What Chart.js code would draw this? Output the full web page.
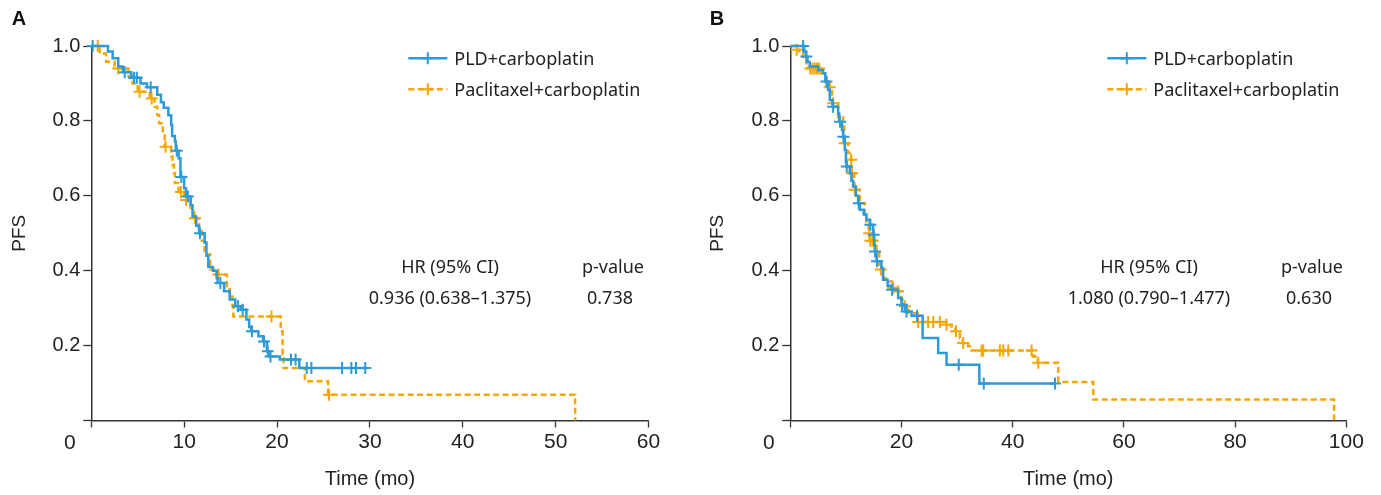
<!DOCTYPE html>
<html>
<head>
<meta charset="utf-8">
<script src="https://cdn.jsdelivr.net/npm/chart.js@4.4.1/dist/chart.umd.min.js"></script>
<style>
    body { margin: 0; background: #fff; width: 1381px; height: 495px; position: relative; overflow: hidden; color: #222; }
    canvas { position: absolute; top: 0; }
    #chartA { left: 0; }
    #chartB { left: 690px; }
    .txt { position: absolute; white-space: nowrap; line-height: 1; font: 18px 'Noto Sans', sans-serif; color: #222; transform: translate(-50%, -50%); }
    .left { transform: translate(0, -50%); }
    .panel { font: bold 20px 'Liberation Sans', Arial, sans-serif; color: #111; }
    .zero { font: 21px 'Liberation Sans', Arial, sans-serif; }
</style>
</head>
<body>
<canvas id="chartA" width="690" height="495"></canvas>
<canvas id="chartB" width="691" height="495"></canvas>
<script>
// series
const seriesNames = ['PLD+carboplatin', 'Paclitaxel+carboplatin'];
const seriesColors = ['#2d9bd7', '#f7a600'];

// Panel A - event times (mo) and PFS after each event, censor times
const aPldTime = [0, 1.8, 2.3, 2.9, 3.4, 4.3, 5.3, 6.0, 7.1, 7.5, 7.8, 8.3, 8.6, 8.7, 9.0, 9.1, 9.4, 9.6, 10.0, 10.2, 10.7, 10.9, 11.3, 11.6, 12.2, 12.4, 12.6, 13.1, 13.5, 13.6, 14.3, 14.9, 15.5, 16.1, 16.7, 17.0, 17.2, 18.0, 18.5, 18.9, 19.2, 20.3, 22.4];
const aPldSurv = [1, 0.985, 0.967, 0.945, 0.93, 0.915, 0.90, 0.89, 0.87, 0.85, 0.835, 0.815, 0.79, 0.76, 0.745, 0.72, 0.70, 0.65, 0.62, 0.598, 0.575, 0.545, 0.52, 0.50, 0.475, 0.44, 0.41, 0.40, 0.38, 0.367, 0.345, 0.323, 0.305, 0.296, 0.27, 0.25, 0.238, 0.225, 0.211, 0.185, 0.171, 0.163, 0.14];
const aPldCens = [0.15, 3.6, 4.6, 4.9, 6.4, 9.2, 9.7, 10.4, 11.7, 13.9, 15.8, 16.3, 17.3, 18.6, 19.0, 19.3, 21.5, 22.0, 23.2, 23.7, 27.0, 28.0, 28.5, 29.5];

const aPacTime = [0, 0.9, 1.6, 2.5, 4.0, 4.45, 5.0, 6.3, 6.8, 7.1, 7.3, 7.7, 7.9, 8.6, 8.75, 8.9, 9.0, 9.4, 10.0, 10.7, 11.0, 11.6, 11.9, 12.2, 12.8, 13.2, 14.6, 14.9, 15.2, 15.3, 20.4, 20.6, 20.7, 23.0, 25.5, 52.1];
const aPacSurv = [1, 0.98, 0.958, 0.94, 0.92, 0.90, 0.878, 0.86, 0.838, 0.816, 0.794, 0.767, 0.731, 0.705, 0.683, 0.66, 0.634, 0.61, 0.589, 0.563, 0.54, 0.51, 0.48, 0.443, 0.403, 0.39, 0.358, 0.331, 0.305, 0.278, 0.238, 0.176, 0.14, 0.105, 0.069, 0];
const aPacCens = [0.7, 2.9, 5.2, 6.5, 8.0, 9.65, 10.2, 11.15, 13.7, 19.4, 25.6];

// Panel B
const bPldTime = [0, 2.5, 2.8, 3.1, 3.5, 5.0, 5.9, 6.3, 6.8, 7.1, 7.6, 8.6, 8.8, 9.3, 9.5, 9.8, 10.0, 10.1, 10.7, 11.0, 11.3, 11.8, 12.2, 12.5, 13.2, 13.7, 14.3, 14.9, 15.1, 15.2, 15.5, 16.4, 16.7, 17.5, 18.2, 19.4, 20.0, 20.6, 21.8, 23.8, 26.6, 28.1, 34.0];
const bPldSurv = [1, 0.985, 0.972, 0.957, 0.945, 0.935, 0.927, 0.905, 0.883, 0.856, 0.838, 0.82, 0.798, 0.775, 0.758, 0.723, 0.69, 0.678, 0.66, 0.64, 0.625, 0.60, 0.58, 0.563, 0.55, 0.536, 0.523, 0.496, 0.47, 0.451, 0.425, 0.407, 0.376, 0.36, 0.349, 0.327, 0.309, 0.291, 0.28, 0.22, 0.18, 0.149, 0.099];
const bPldCens = [2.3, 2.9, 6.5, 7.7, 8.95, 9.55, 10.15, 12.3, 14.4, 15.0, 15.25, 15.6, 18.3, 20.1, 20.9, 22.8, 30.3, 34.8, 47.6];

const bPacTime = [0, 0.9, 1.6, 2.3, 2.9, 3.3, 5.6, 6.5, 7.0, 7.5, 8.6, 9.5, 9.7, 10.4, 10.9, 11.05, 11.5, 12.5, 13.4, 13.7, 14.1, 14.3, 15.5, 16.0, 16.2, 16.7, 17.6, 18.3, 19.2, 20.0, 20.5, 21.2, 22.9, 28.0, 29.0, 29.7, 30.5, 31.0, 32.0, 32.3, 43.7, 44.5, 48.2, 54.5, 97.8];
const bPacSurv = [1, 0.99, 0.98, 0.963, 0.95, 0.94, 0.927, 0.905, 0.89, 0.847, 0.81, 0.785, 0.74, 0.714, 0.696, 0.66, 0.616, 0.58, 0.55, 0.527, 0.50, 0.48, 0.456, 0.416, 0.403, 0.38, 0.371, 0.354, 0.345, 0.323, 0.305, 0.287, 0.263, 0.256, 0.247, 0.238, 0.22, 0.207, 0.198, 0.187, 0.171, 0.154, 0.103, 0.056, 0];
const bPacCens = [1.15, 3.6, 4.0, 4.4, 4.8, 5.2, 7.1, 7.7, 9.8, 10.95, 11.1, 11.6, 14.2, 14.4, 14.8, 16.3, 18.5, 19.4, 20.6, 23.0, 24.8, 25.7, 26.9, 28.1, 29.8, 31.1, 34.4, 34.7, 37.7, 38.3, 39.2, 43.4, 44.6];

// ticks
const aTicksX = [0, 10, 20, 30, 40, 50, 60];
const bTicksX = [0, 20, 40, 60, 80, 100];
const ticksY = [0, 0.2, 0.4, 0.6, 0.8, 1.0];

// HR table
const statsHead = ['HR (95% CI)', 'p-value'];
const statsA = ['0.936 (0.638–1.375)', '0.738'];
const statsB = ['1.080 (0.790–1.477)', '0.630'];

// PFS value at time t (step function)
function survAt(times, surv, t) {
    let s = surv[0];
    for (let i = 0; i < times.length; i++) {
        if (times[i] <= t + 1e-9) s = surv[i];
    }
    return s;
}

function kmDatasets(times, surv, cens, idx) {
    const pts = times.map((t, i) => ({ x: t, y: surv[i] }));
    const lastCens = cens[cens.length - 1];
    if (lastCens > times[times.length - 1]) pts.push({ x: lastCens, y: surv[surv.length - 1] });
    const color = seriesColors[idx];
    return [
        {
            label: seriesNames[idx],
            data: pts,
            stepped: 'before',
            borderColor: color,
            borderWidth: 2.5,
            borderDash: idx ? [6, 3.5] : [],
            pointRadius: 0,
            fill: false,
            clip: false
        },
        {
            label: seriesNames[idx] + ' (censored)',
            data: cens.map(t => ({ x: t, y: survAt(times, surv, t) })),
            showLine: false,
            pointStyle: 'cross',
            pointRadius: 6,
            borderColor: color,
            borderWidth: 2,
            clip: false
        }
    ];
}

// legend sample: line with a cross, drawn on the canvas
const kmLegend = {
    id: 'kmLegend',
    afterDraw(chart, args, opts) {
        const { ctx, chartArea } = chart;
        seriesColors.forEach((color, i) => {
            const x0 = chartArea.left + opts.dx;
            const y = opts.rows[i];
            ctx.save();
            ctx.strokeStyle = color;
            ctx.lineWidth = 2.5;
            ctx.setLineDash(i ? [6, 3.5] : []);
            ctx.beginPath();
            ctx.moveTo(x0, y);
            ctx.lineTo(x0 + 39, y);
            ctx.stroke();
            ctx.setLineDash([]);
            ctx.lineWidth = 2;
            ctx.beginPath();
            ctx.moveTo(x0 + 19.5, y - 6);
            ctx.lineTo(x0 + 19.5, y + 6);
            ctx.moveTo(x0 + 13.5, y);
            ctx.lineTo(x0 + 25.5, y);
            ctx.stroke();
            ctx.restore();
        });
    }
};

const axisColor = '#333';
const textColor = '#222';
const sansFont = "'Liberation Sans', Arial, sans-serif";

function makeChart(id, cfg) {
    return new Chart(document.getElementById(id), {
        type: 'line',
        data: { datasets: cfg.datasets },
        options: {
            responsive: false,
            animation: false,
            events: [],
            layout: { padding: { top: 46, right: cfg.padRight, bottom: 0, left: 0 } },
            plugins: {
                legend: { display: false },
                tooltip: { enabled: false },
                kmLegend: { dx: 317, rows: [58.3, 89.3] }
            },
            scales: {
                x: {
                    type: 'linear',
                    min: 0,
                    max: cfg.xTicks[cfg.xTicks.length - 1],
                    afterBuildTicks: s => { s.ticks = cfg.xTicks.map(v => ({ value: v })); },
                    afterFit: s => { s.height = 74.5; },
                    ticks: {
                        callback: v => (v === 0 ? '' : String(v)),
                        font: { family: sansFont, size: 21 },
                        color: textColor,
                        padding: 2,
                        maxRotation: 0,
                        autoSkip: false
                    },
                    grid: { drawOnChartArea: false, tickLength: 7, tickColor: axisColor, tickWidth: 1.3 },
                    border: { color: axisColor, width: 1.5 },
                    title: {
                        display: true,
                        text: 'Time (mo)',
                        font: { family: sansFont, size: 20 },
                        color: textColor,
                        padding: { top: 0, bottom: 4 }
                    }
                },
                y: {
                    type: 'linear',
                    min: 0,
                    max: 1,
                    afterBuildTicks: s => { s.ticks = ticksY.map(v => ({ value: v })); },
                    afterFit: s => { s.width = cfg.axisLeft; },
                    ticks: {
                        callback: v => (v === 0 ? '' : v.toFixed(1)),
                        font: { family: sansFont, size: 20 },
                        color: textColor,
                        padding: 3
                    },
                    grid: { drawOnChartArea: false, tickLength: 8, tickColor: axisColor, tickWidth: 1.3 },
                    border: { color: axisColor, width: 1.5 },
                    title: {
                        display: true,
                        text: 'PFS',
                        font: { family: sansFont, size: 19 },
                        color: textColor,
                        padding: { top: cfg.yTitlePad, bottom: 0 }
                    }
                }
            }
        },
        plugins: [kmLegend]
    });
}

makeChart('chartA', {
    datasets: [...kmDatasets(aPldTime, aPldSurv, aPldCens, 0), ...kmDatasets(aPacTime, aPacSurv, aPacCens, 1)],
    xTicks: aTicksX,
    axisLeft: 91.3,
    padRight: 41.5,
    yTitlePad: 8
});

makeChart('chartB', {
    datasets: [...kmDatasets(bPldTime, bPldSurv, bPldCens, 0), ...kmDatasets(bPacTime, bPacSurv, bPacCens, 1)],
    xTicks: bTicksX,
    axisLeft: 100.3,
    padRight: 34.7,
    yTitlePad: 16
});

// text overlays
function addText(str, x, y, cls) {
    const el = document.createElement('div');
    el.className = 'txt' + (cls ? ' ' + cls : '');
    el.textContent = str;
    el.style.left = x + 'px';
    el.style.top = y + 'px';
    document.body.appendChild(el);
}

[0, 699].forEach((off, p) => {
    addText(p ? 'B' : 'A', 19 + off - p, 18.3, 'panel');
    addText('0', 70.8 + off - 1, 442, 'zero');
    seriesNames.forEach((name, i) => addText(name, 454.3 + off, [58.3, 89.3][i], 'left'));
    const stats = p ? statsB : statsA;
    addText(statsHead[0], 450 + off, 266);
    addText(statsHead[1], 613 + off, 266);
    addText(stats[0], 450 + off, 297);
    addText(stats[1], 610 + off, 297);
});
</script>
</body>
</html>
